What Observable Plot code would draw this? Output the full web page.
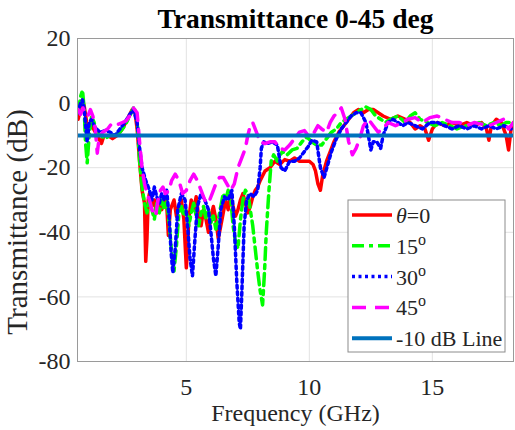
<!DOCTYPE html>
<html><head><meta charset="utf-8">
<script src="https://cdn.jsdelivr.net/npm/d3@7"></script>
<script src="https://cdn.jsdelivr.net/npm/@observablehq/plot@0.6"></script>
<style>
body{margin:0;background:#fff}
svg{display:block}
</style>
</head><body><div id="chart"></div>
<script>
// Frequency (GHz), transmittance (dB) pairs
const red = [[0.6,-5],[0.7,-2],[0.78,1],[0.85,-1],[0.95,-6],[1.05,-8],[1.15,-7],[1.3,-9],[1.45,-11],[1.55,-12.5],[1.65,-10],[1.8,-10],[2.0,-11],[2.2,-10],[2.4,-8],[2.6,-5],[2.8,-2],[2.9,-2],[3.0,-8],[3.1,-18],[3.2,-27],[3.3,-31],[3.35,-49],[3.4,-42],[3.45,-30],[3.5,-28],[3.6,-32],[3.7,-30],[3.8,-34],[3.9,-31],[4.0,-33],[4.1,-29],[4.2,-31],[4.27,-41],[4.35,-33],[4.5,-30],[4.6,-35],[4.7,-32],[4.8,-30],[4.9,-36],[5.0,-51],[5.05,-45],[5.1,-36],[5.2,-30],[5.3,-33],[5.4,-29],[5.5,-35],[5.6,-38],[5.7,-33],[5.8,-36],[5.9,-40],[6.0,-35],[6.1,-32],[6.2,-36],[6.3,-42],[6.4,-38],[6.5,-34],[6.6,-30],[6.7,-33],[6.8,-29],[6.9,-32],[7.0,-35],[7.1,-33],[7.2,-30],[7.3,-28],[7.4,-31],[7.5,-34],[7.6,-32],[7.7,-29],[7.8,-27],[7.9,-26],[8.0,-24],[8.2,-21],[8.4,-20],[8.6,-18],[8.8,-19],[9.0,-17.5],[9.2,-18],[9.4,-17],[9.6,-18],[9.8,-18],[10.0,-18],[10.15,-19],[10.25,-21],[10.35,-25],[10.45,-27],[10.55,-22],[10.7,-18],[10.85,-15],[11.0,-12],[11.2,-9],[11.4,-7],[11.6,-5],[11.8,-3],[12.0,-2],[12.2,-3],[12.4,-2],[12.6,-2],[12.8,-3],[13.0,-4],[13.3,-5],[13.6,-4],[13.9,-5],[14.1,-6],[14.3,-8],[14.5,-7],[14.7,-8],[14.85,-11.5],[15.0,-8],[15.2,-6],[15.5,-7],[15.8,-6],[16.1,-7],[16.4,-6],[16.7,-7],[17.0,-6],[17.2,-8],[17.3,-11.5],[17.4,-7],[17.6,-5],[17.8,-6],[18.0,-10],[18.1,-14.5],[18.2,-8],[18.3,-6]];

const green = [[0.6,-3],[0.7,2],[0.78,4],[0.85,-2],[0.9,-12],[0.97,-18.5],[1.05,-10],[1.15,-4],[1.25,-6],[1.35,-9],[1.5,-10],[1.7,-11],[1.9,-10],[2.1,-10],[2.3,-9],[2.5,-7],[2.7,-4],[2.85,-1.5],[3.0,-5],[3.1,-18],[3.2,-26],[3.3,-31],[3.4,-34],[3.5,-30],[3.6,-33],[3.7,-36],[3.8,-31],[3.9,-34],[4.0,-30],[4.1,-33],[4.2,-30],[4.3,-37],[4.4,-46],[4.5,-52],[4.6,-44],[4.7,-34],[4.8,-32],[4.9,-35],[5.0,-33],[5.1,-38],[5.2,-34],[5.3,-31],[5.4,-35],[5.5,-38],[5.6,-34],[5.7,-32],[5.8,-36],[5.9,-33],[6.0,-37],[6.1,-35],[6.2,-39],[6.3,-36],[6.4,-32],[6.5,-28],[6.6,-30],[6.7,-27],[6.8,-29],[6.9,-38],[7.0,-43],[7.1,-45],[7.2,-36],[7.3,-30],[7.4,-27],[7.5,-28],[7.6,-33],[7.7,-38],[7.8,-45],[7.9,-52],[8.0,-58],[8.1,-62.5],[8.18,-52],[8.25,-40],[8.35,-28],[8.45,-18],[8.55,-16],[8.7,-18],[8.9,-15],[9.1,-16],[9.3,-14.5],[9.5,-14],[9.7,-12],[9.9,-10.5],[10.1,-12],[10.3,-13],[10.5,-13],[10.7,-11],[10.9,-9],[11.1,-8],[11.3,-6],[11.5,-5],[11.7,-4],[11.9,-3],[12.1,-2],[12.3,-1.2],[12.5,-2],[12.7,-4],[12.9,-5],[13.1,-6],[13.3,-5],[13.6,-4],[13.9,-6],[14.1,-4],[14.3,-3],[14.5,-5],[14.8,-6],[15.1,-7],[15.4,-6],[15.7,-7],[16.0,-8],[16.3,-7],[16.6,-7],[16.9,-6],[17.2,-7],[17.5,-6],[17.8,-7],[18.0,-6],[18.3,-6]];

const blue = [[0.6,-3],[0.7,0],[0.78,1],[0.85,-2],[0.92,-8],[0.97,-12],[1.05,-6],[1.15,-5],[1.25,-7],[1.35,-8],[1.5,-9],[1.7,-8.5],[1.9,-9],[2.1,-10],[2.3,-8],[2.5,-6],[2.7,-3.5],[2.85,-2],[3.0,-6],[3.1,-14],[3.2,-20],[3.35,-24],[3.5,-27],[3.6,-30],[3.7,-26],[3.8,-29],[3.9,-31],[4.0,-28],[4.1,-30],[4.2,-27],[4.3,-35],[4.38,-46],[4.45,-52.5],[4.55,-45],[4.65,-33],[4.8,-28],[4.95,-30],[5.05,-38],[5.15,-48],[5.25,-53.5],[5.35,-42],[5.45,-32],[5.6,-28],[5.75,-30],[5.9,-33],[6.0,-40],[6.1,-48],[6.2,-53.5],[6.3,-44],[6.4,-33],[6.55,-29],[6.7,-30],[6.85,-27],[6.95,-38],[7.05,-55],[7.15,-68],[7.2,-70],[7.25,-60],[7.35,-38],[7.45,-30],[7.6,-28],[7.75,-29],[7.9,-27],[8.0,-20],[8.05,-14],[8.15,-12],[8.3,-12.5],[8.5,-12],[8.7,-13],[8.85,-20],[9.0,-21],[9.2,-18],[9.4,-18],[9.6,-17],[9.8,-15],[9.95,-13.5],[10.1,-11.5],[10.3,-12],[10.45,-20],[10.6,-23],[10.75,-19],[10.9,-15],[11.1,-11],[11.3,-8],[11.5,-6],[11.7,-4],[11.9,-3],[12.1,-3],[12.3,-6],[12.4,-10],[12.5,-14.5],[12.6,-12],[12.75,-12],[12.9,-14],[13.0,-10],[13.2,-6],[13.4,-5],[13.6,-6],[13.8,-7],[14.0,-6],[14.3,-7],[14.6,-8],[14.9,-6],[15.2,-6],[15.5,-7],[15.8,-8],[16.1,-7],[16.4,-8],[16.7,-7],[17.0,-8],[17.3,-7],[17.6,-8],[17.9,-7],[18.2,-8]];

const magenta = [[0.6,-2],[0.7,-3.5],[0.8,-1.5],[0.9,-3],[1.0,-4],[1.1,-2],[1.2,-4],[1.3,-8],[1.38,-15.5],[1.45,-11],[1.6,-9],[1.8,-8],[1.95,-6.5],[2.1,-7],[2.25,-6.5],[2.4,-6],[2.55,-5.5],[2.7,-4],[2.85,-1.5],[3.0,-3],[3.1,-12],[3.2,-20],[3.3,-25],[3.4,-28],[3.5,-30],[3.6,-33],[3.75,-35],[3.85,-30],[3.95,-27],[4.05,-26],[4.15,-28],[4.3,-27],[4.4,-24],[4.55,-22],[4.7,-24],[4.85,-28],[5.0,-27],[5.15,-24],[5.3,-22],[5.45,-24],[5.6,-27],[5.75,-30],[5.9,-31],[6.05,-28],[6.2,-25],[6.35,-23],[6.5,-23],[6.65,-25],[6.8,-27],[6.95,-25],[7.1,-20],[7.25,-17],[7.4,-14],[7.5,-10],[7.6,-7],[7.7,-6],[7.85,-9],[8.0,-12],[8.2,-12.5],[8.4,-12],[8.6,-12],[8.8,-14],[9.0,-14.5],[9.2,-13],[9.4,-11],[9.6,-9],[9.8,-8.5],[10.0,-10.5],[10.2,-9],[10.35,-7],[10.5,-8],[10.7,-9],[10.85,-6],[11.0,-4],[11.15,-3],[11.3,-1.5],[11.45,-5],[11.6,-12],[11.75,-16],[11.9,-14],[12.05,-11],[12.2,-7],[12.4,-5],[12.6,-7],[12.8,-9],[13.0,-8],[13.2,-6],[13.5,-7],[13.8,-6],[14.0,-5],[14.3,-4.5],[14.6,-6],[14.9,-4.5],[15.2,-4],[15.5,-5],[15.8,-6],[16.1,-6],[16.4,-7],[16.7,-6],[17.0,-6.5],[17.3,-7],[17.6,-6],[17.9,-5],[18.1,-8],[18.3,-6]];

const thresholdDb = [-10];
const xTicks = [5, 10, 15];
const yTicks = [20, 0, -20, -40, -60, -80];
const legendLabels = ["θ=0", "15", "30", "45", "-10 dB Line"];

const rows = arr => arr.map(([f, v]) => ({f, v}));
const font = "Liberation Serif";

const series = [
  {data: red, stroke: "#ff0000", dash: null},
  {data: green, stroke: "#00ff00", dash: "12,5,4,5"},
  {data: blue, stroke: "#0000ff", dash: "3,3.5"},
  {data: magenta, stroke: "#ff00ff", dash: "14,9"}
];

const chart = Plot.plot({
  width: 515, height: 430,
  marginLeft: 77, marginRight: 2, marginTop: 38, marginBottom: 69,
  style: {fontFamily: font, fontSize: "24px", background: "#fff", color: "#262626"},
  x: {domain: [0.576, 18.3]},
  y: {domain: [-80, 20]},
  marks: [
    Plot.gridX(xTicks, {stroke: "#e2e2e2", strokeOpacity: 1}),
    Plot.gridY(yTicks, {stroke: "#e2e2e2", strokeOpacity: 1}),
    ...series.map(s => Plot.line(rows(s.data), {x: "f", y: "v", stroke: s.stroke, strokeWidth: 3.5, strokeDasharray: s.dash, clip: true})),
    Plot.ruleY(thresholdDb, {stroke: "#0072BD", strokeWidth: 4}),
    Plot.frame({stroke: "#9a9a9a"}),
    Plot.axisX({ticks: xTicks, tickSize: 0, tickPadding: 16, label: null, fontSize: 24, fontFamily: font, tickFormat: d => String(d)}),
    Plot.axisY({ticks: yTicks, tickSize: 0, tickPadding: 7, label: null, fontSize: 24, fontFamily: font, tickFormat: d => String(d)}),
    Plot.text(["Frequency (GHz)"], {frameAnchor: "bottom", lineAnchor: "bottom", dy: 59, fontSize: 24, fontFamily: font, text: d => d, fill: "#262626"}),
    Plot.text(["Transmittance (dB)"], {frameAnchor: "left", textAnchor: "middle", lineAnchor: "middle", rotate: -90, dx: -60, dy: 22, fontSize: 29, fontFamily: font, text: d => d, fill: "#262626"}),
    Plot.text(["Transmittance 0-45 deg"], {frameAnchor: "top", lineAnchor: "bottom", dy: -11, fontSize: 27.5, fontWeight: "bold", fontFamily: font, text: d => d, fill: "#000"})
  ]
});

const svg = d3.select(chart);
const leg = svg.append("g").attr("font-family", font).attr("font-size", 22).attr("fill", "#262626").attr("text-anchor", "start");
leg.append("rect").attr("x", 348).attr("y", 200).attr("width", 157).attr("height", 152)
  .attr("fill", "#fff").attr("stroke", "#8c8c8c").attr("stroke-width", 1);
const legStyles = [...series.map(s => ({stroke: s.stroke, dash: s.dash, w: 3.5})), {stroke: "#0072BD", dash: null, w: 4}];
legendLabels.forEach((lab, i) => {
  const y = 215 + i * 30.8;
  leg.append("line").attr("x1", 352).attr("x2", 392).attr("y1", y).attr("y2", y)
    .attr("stroke", legStyles[i].stroke).attr("stroke-width", legStyles[i].w)
    .attr("stroke-dasharray", legStyles[i].dash);
  const t = leg.append("text").attr("x", 396).attr("y", y + 8).attr("text-anchor", "start");
  if (i === 0) {
    t.append("tspan").attr("font-style", "italic").text("θ");
    t.append("tspan").text("=0");
  } else if (i < 4) {
    t.append("tspan").text(lab);
    t.append("tspan").attr("font-size", 16).attr("dy", -9).text("o");
  } else {
    t.text(lab);
  }
});

document.getElementById("chart").appendChild(chart);
</script>
</body></html>
